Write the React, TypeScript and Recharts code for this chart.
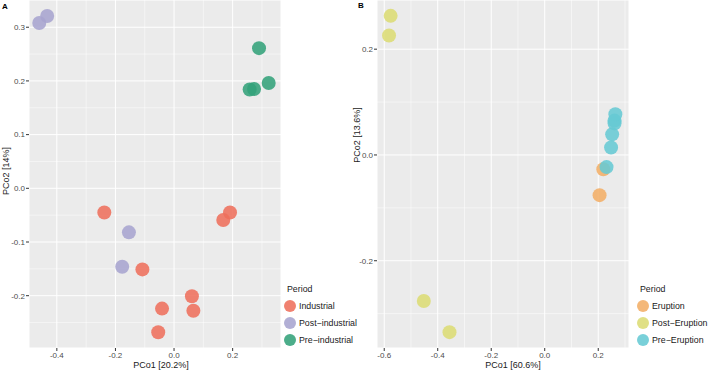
import React from 'react';
import { ScatterChart, Scatter, XAxis, YAxis, CartesianGrid, ReferenceLine, Label } from 'recharts';

// Panel A: PCoA by period (industrial history)
const industrialA = [
  { x: -0.238, y: -0.045 },
  { x: -0.108, y: -0.151 },
  { x: 0.191, y: -0.045 },
  { x: 0.168, y: -0.059 },
  { x: 0.061, y: -0.201 },
  { x: 0.066, y: -0.228 },
  { x: -0.041, y: -0.224 },
  { x: -0.054, y: -0.268 },
];
const postIndustrialA = [
  { x: -0.46, y: 0.308 },
  { x: -0.433, y: 0.321 },
  { x: -0.154, y: -0.082 },
  { x: -0.177, y: -0.146 },
];
const preIndustrialA = [
  { x: 0.29, y: 0.261 },
  { x: 0.323, y: 0.196 },
  { x: 0.258, y: 0.184 },
  { x: 0.273, y: 0.185 },
];

// Panel B: PCoA by eruption period
const eruptionB = [
  { x: 0.205, y: -0.076 },
  { x: 0.219, y: -0.027 },
];
const postEruptionB = [
  { x: -0.576, y: 0.263 },
  { x: -0.582, y: 0.226 },
  { x: -0.452, y: -0.276 },
  { x: -0.356, y: -0.335 },
];
const preEruptionB = [
  { x: 0.231, y: -0.023 },
  { x: 0.248, y: 0.014 },
  { x: 0.252, y: 0.039 },
  { x: 0.261, y: 0.06 },
  { x: 0.261, y: 0.065 },
  { x: 0.264, y: 0.077 },
];

const xTicksA = [-0.4, -0.2, 0, 0.2];
const xMinorA = [-0.3, -0.1, 0.1, 0.3];
const yTicksA = [-0.2, -0.1, 0, 0.1, 0.2, 0.3];
const yMinorA = [-0.25, -0.15, -0.05, 0.05, 0.15, 0.25];

const xTicksB = [-0.6, -0.4, -0.2, 0, 0.2];
const xMinorB = [-0.5, -0.3, -0.1, 0.1, 0.3];
const yTicksB = [-0.2, 0, 0.2];
const yMinorB = [-0.3, -0.1, 0.1];

const FONT = '"Liberation Sans", Arial, Helvetica, sans-serif';
const PANEL_BG = '#EBEBEB';

const seriesA = [
  { name: 'Industrial', color: '#EE6F5C', data: industrialA },
  { name: 'Post\u2212industrial', color: '#A7A4CF', data: postIndustrialA },
  { name: 'Pre\u2212industrial', color: '#33A27A', data: preIndustrialA },
];
const seriesB = [
  { name: 'Eruption', color: '#F2AE66', data: eruptionB },
  { name: 'Post\u2212Eruption', color: '#DCDC74', data: postEruptionB },
  { name: 'Pre\u2212Eruption', color: '#66CAD4', data: preEruptionB },
];

const fmt = (v: number) => v.toFixed(1);

const dot = (color: string) => (p: any) => (
  <circle cx={p.cx} cy={p.cy} r={7} fill={color} fillOpacity={0.88} />
);

const tickStyle = { fontSize: 8, fill: '#4D4D4D', fontFamily: FONT };

interface PanelProps {
  series: { name: string; color: string; data: { x: number; y: number }[] }[];
  xDomain: [number, number];
  yDomain: [number, number];
  xTicks: number[];
  yTicks: number[];
  xMinor: number[];
  yMinor: number[];
  xTitle: string;
  yTitle: string;
  xTitleShift: number;
  yTitleX: number;
  yTitleY: number;
}

const Panel: React.FC<PanelProps> = ({
  series, xDomain, yDomain, xTicks, yTicks, xMinor, yMinor, xTitle, yTitle, xTitleShift, yTitleX, yTitleY,
}) => (
  <ScatterChart width={285} height={371} margin={{ top: 0, right: 4, bottom: 0, left: 0 }}>
    <CartesianGrid stroke="#FFFFFF" strokeWidth={1} fill={PANEL_BG} fillOpacity={1} />
    {xMinor.map((v) => (
      <ReferenceLine key={`xm${v}`} x={v} stroke="#FFFFFF" strokeWidth={0.5} />
    ))}
    {yMinor.map((v) => (
      <ReferenceLine key={`ym${v}`} y={v} stroke="#FFFFFF" strokeWidth={0.5} />
    ))}
    <XAxis
      type="number"
      dataKey="x"
      domain={xDomain}
      allowDataOverflow
      ticks={xTicks}
      tickFormatter={fmt}
      interval={0}
      height={23}
      axisLine={false}
      tickSize={3}
      tickMargin={1}
      tickLine={{ stroke: '#333333' }}
      tick={tickStyle}
    >
      <Label
        content={(p: any) => {
          const vb = p.viewBox;
          return (
            <text
              x={vb.x + vb.width / 2 + xTitleShift}
              y={368}
              textAnchor="middle"
              fontSize={9}
              fill="#1A1A1A"
              fontFamily={FONT}
            >
              {xTitle}
            </text>
          );
        }}
      />
    </XAxis>
    <YAxis
      type="number"
      dataKey="y"
      domain={yDomain}
      allowDataOverflow
      ticks={yTicks}
      tickFormatter={fmt}
      interval={0}
      width={29}
      axisLine={false}
      tickSize={3}
      tickMargin={1}
      tickLine={{ stroke: '#333333' }}
      tick={tickStyle}
    >
      <Label
        content={() => (
          <text
            x={0}
            y={0}
            transform={`translate(${yTitleX}, ${yTitleY}) rotate(-90)`}
            textAnchor="middle"
            fontSize={9}
            fill="#1A1A1A"
            fontFamily={FONT}
          >
            {yTitle}
          </text>
        )}
      />
    </YAxis>
    {series.map((s) => (
      <Scatter
        key={s.name}
        name={s.name}
        data={s.data}
        shape={dot(s.color)}
        isAnimationActive={false}
      />
    ))}
  </ScatterChart>
);

const PeriodLegend: React.FC<{ series: { name: string; color: string }[]; left: number }> = ({ series, left }) => (
  <div style={{ position: 'absolute', left, top: 282, fontFamily: FONT, color: '#1A1A1A', whiteSpace: 'nowrap' }}>
    <div style={{ fontSize: 8.8, height: 15, lineHeight: '15px' }}>Period</div>
    {series.map((s) => (
      <div key={s.name} style={{ display: 'flex', alignItems: 'center', height: 17.3, fontSize: 8.8 }}>
        <svg width={12} height={12} style={{ marginLeft: -3, marginRight: 3 }}>
          <circle cx={6} cy={6} r={6} fill={s.color} fillOpacity={0.88} />
        </svg>
        <span>{s.name}</span>
      </div>
    ))}
  </div>
);

const App: React.FC = () => (
  <div style={{ position: 'absolute', left: 0, top: 0, width: 709, height: 371, background: '#FFFFFF', overflow: 'hidden' }}>
    <div style={{ position: 'absolute', left: 0, top: 0 }}>
      <Panel
        series={seriesA}
        xDomain={[-0.495, 0.365]}
        yDomain={[-0.2974, 0.3507]}
        xTicks={xTicksA}
        yTicks={yTicksA}
        xMinor={xMinorA}
        yMinor={yMinorA}
        xTitle="PCo1 [20.2%]"
        yTitle="PCo2 [14%]"
        xTitleShift={6}
        yTitleX={9}
        yTitleY={171}
      />
    </div>
    <div style={{ position: 'absolute', left: 348, top: 0 }}>
      <Panel
        series={seriesB}
        xDomain={[-0.627, 0.315]}
        yDomain={[-0.365, 0.293]}
        xTicks={xTicksB}
        yTicks={yTicksB}
        xMinor={xMinorB}
        yMinor={yMinorB}
        xTitle="PCo1 [60.6%]"
        yTitle="PCo2 [13.6%]"
        xTitleShift={10}
        yTitleX={12}
        yTitleY={135}
      />
    </div>
    <PeriodLegend series={seriesA} left={287} />
    <PeriodLegend series={seriesB} left={640} />
    <div style={{ position: 'absolute', left: 2, top: 2, fontSize: 8, fontWeight: 'bold', fontFamily: FONT }}>A</div>
    <div style={{ position: 'absolute', left: 358, top: 1, fontSize: 8, fontWeight: 'bold', fontFamily: FONT }}>B</div>
  </div>
);

export default App;
